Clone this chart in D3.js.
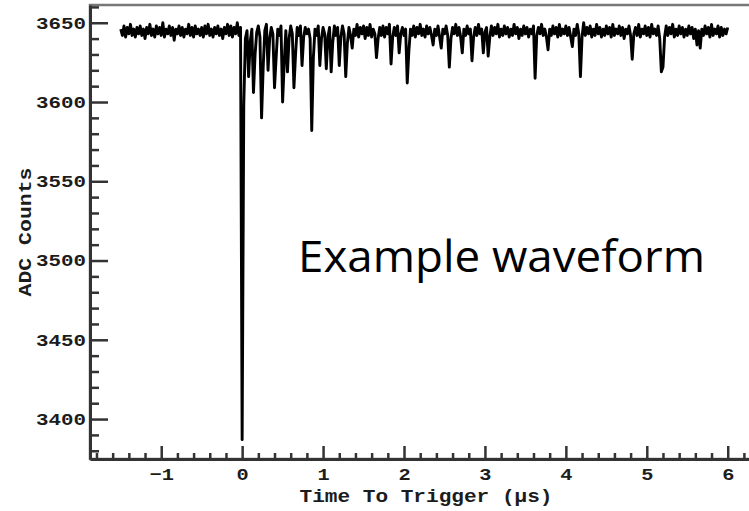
<!DOCTYPE html>
<html>
<head>
<meta charset="utf-8">
<script src="https://cdn.jsdelivr.net/npm/d3@7"></script>
<style>
  body { margin: 0; background: #fff; }
  svg { display: block; }
  .mono { font-family: "Liberation Mono", "DejaVu Sans Mono", monospace; font-weight: bold; fill: #1c1c1c; }
</style>
</head>
<body>
<svg></svg>
<script>
var width = 749;
var height = 511;

// ADC samples, one every 20 ns starting 1.5 us before the trigger
var sampleStart = -1.5;
var sampleStep = 0.02;
var adcCounts = [
  3646,3642,3648,3641,3647,3643,3649,3642,3646,3641,
  3647,3643,3648,3642,3646,3640,3647,3643,3649,3642,
  3646,3641,3648,3643,3647,3642,3650,3641,3646,3643,
  3648,3642,3647,3639,3646,3643,3648,3642,3647,3641,
  3646,3643,3649,3642,3647,3641,3648,3643,3646,3642,
  3647,3641,3648,3643,3649,3642,3646,3641,3647,3643,
  3648,3642,3646,3640,3647,3643,3649,3642,3648,3641,
  3647,3643,3650,3642,3647,3387,3598,3640,3645,3616,
  3638,3646,3606,3630,3644,3648,3641,3590,3622,3645,
  3649,3620,3640,3647,3643,3609,3628,3646,3642,3648,
  3600,3625,3645,3619,3640,3648,3643,3609,3630,3647,
  3642,3648,3623,3641,3647,3643,3646,3640,3582,3628,
  3646,3642,3648,3623,3640,3647,3643,3621,3641,3647,
  3619,3638,3648,3642,3647,3623,3641,3648,3643,3616,
  3637,3647,3642,3634,3646,3642,3649,3641,3647,3643,
  3648,3640,3647,3642,3649,3641,3646,3643,3628,3640,
  3647,3642,3648,3641,3647,3643,3649,3624,3641,3647,
  3642,3648,3631,3643,3647,3642,3646,3612,3632,3646,
  3642,3648,3641,3647,3643,3649,3642,3646,3641,3648,
  3643,3647,3642,3636,3646,3642,3648,3641,3634,3646,
  3643,3648,3642,3622,3640,3647,3643,3649,3642,3647,
  3641,3631,3646,3642,3648,3643,3646,3626,3641,3647,
  3642,3649,3643,3646,3631,3644,3647,3629,3641,3648,
  3642,3647,3643,3649,3641,3646,3642,3648,3643,3647,
  3641,3646,3642,3649,3643,3647,3640,3646,3642,3648,
  3643,3647,3641,3646,3643,3648,3615,3642,3647,3643,
  3649,3642,3646,3641,3633,3646,3642,3648,3643,3647,
  3641,3649,3642,3646,3643,3648,3642,3647,3641,3635,
  3646,3642,3649,3643,3616,3641,3650,3642,3647,3643,
  3648,3641,3646,3642,3649,3643,3647,3641,3646,3642,
  3648,3643,3647,3641,3649,3642,3646,3643,3648,3642,
  3647,3640,3646,3643,3648,3642,3627,3643,3647,3642,
  3649,3641,3646,3643,3648,3642,3647,3641,3649,3643,
  3646,3642,3648,3640,3619,3622,3641,3648,3642,3647,
  3643,3649,3641,3646,3642,3648,3643,3647,3641,3646,
  3642,3648,3643,3647,3640,3646,3636,3645,3634,3646,
  3642,3648,3643,3647,3641,3649,3642,3646,3643,3648,
  3641,3647,3642,3646,3643,3647
];

var xMajor = [-1, 0, 1, 2, 3, 4, 5, 6];
var yMajor = [3400, 3450, 3500, 3550, 3600, 3650];
var xTitle = "Time To Trigger (\u00b5s)";
var yTitle = "ADC Counts";
var note = "Example waveform";

var svg = d3.select("svg")
  .attr("width", width)
  .attr("height", height);

var x = d3.scaleLinear().domain([-1.88, 6.3]).range([90, 752]);
var y = d3.scaleLinear().domain([3374.8, 3661.2]).range([459, 5]);

// minor ticks every 0.2 us and every 10 counts
var xMinor = d3.range(-9, 32).map(d => d / 5).filter(d => !xMajor.includes(d));
var yMinor = d3.range(338, 367).map(d => d * 10).filter(d => !yMajor.includes(d));

// frame
svg.append("rect")
  .attr("x", x.range()[0])
  .attr("y", y.range()[1])
  .attr("width", x.range()[1] - x.range()[0])
  .attr("height", y.range()[0] - y.range()[1])
  .attr("fill", "none")
  .attr("stroke", "#777")
  .attr("stroke-width", 2.5);

// waveform
var line = d3.line()
  .x((d, i) => x(sampleStart + i * sampleStep))
  .y(d => y(d));

svg.append("path")
  .datum(adcCounts)
  .attr("d", line)
  .attr("fill", "none")
  .attr("stroke", "#000")
  .attr("stroke-width", 2.9)
  .attr("stroke-linejoin", "round");

function styleAxis(g) {
  g.select(".domain").attr("stroke", "#333").attr("stroke-width", 3);
  g.selectAll(".tick line").attr("stroke", "#333").attr("stroke-width", 2.5);
}

function stretch(sel, perChar) {
  sel.attr("textLength", function() { return this.textContent.length * perChar; })
     .attr("lengthAdjust", "spacingAndGlyphs");
}

// x axis
svg.append("g")
  .attr("transform", "translate(0," + y.range()[0] + ")")
  .call(d3.axisBottom(x).tickValues(xMinor).tickSize(-6).tickFormat(""))
  .call(g => g.select(".domain").remove())
  .call(styleAxis);

var xAxis = svg.append("g")
  .attr("transform", "translate(0," + y.range()[0] + ")")
  .call(d3.axisBottom(x).tickValues(xMajor).tickSize(-13).tickSizeOuter(0))
  .call(styleAxis);

xAxis.selectAll(".tick text")
  .attr("class", "mono")
  .attr("font-size", 17)
  .attr("y", 21)
  .attr("dy", 0)
  .call(stretch, 12.2);

// y axis
svg.append("g")
  .attr("transform", "translate(" + x.range()[0] + ",0)")
  .call(d3.axisLeft(y).tickValues(yMinor).tickSize(-9).tickFormat(""))
  .call(g => g.select(".domain").remove())
  .call(styleAxis);

var yAxis = svg.append("g")
  .attr("transform", "translate(" + x.range()[0] + ",0)")
  .call(d3.axisLeft(y).tickValues(yMajor).tickFormat(d3.format("d"))
    .tickSize(-18).tickSizeOuter(0).tickPadding(4))
  .call(styleAxis);

yAxis.selectAll(".tick text")
  .attr("class", "mono")
  .attr("font-size", 17)
  .attr("dy", "0.32em")
  .call(stretch, 12.5);

// axis titles
svg.append("text")
  .attr("class", "mono")
  .attr("x", 426)
  .attr("y", 502)
  .attr("text-anchor", "middle")
  .attr("font-size", 18)
  .text(xTitle)
  .call(stretch, 12.65);

svg.append("text")
  .attr("class", "mono")
  .attr("transform", "translate(31,232) rotate(-90)")
  .attr("text-anchor", "middle")
  .attr("font-size", 18)
  .text(yTitle)
  .call(stretch, 12.9);

// annotation
svg.append("text")
  .attr("x", 298)
  .attr("y", 272)
  .attr("font-family", "'Open Sans', 'Noto Sans', sans-serif")
  .attr("font-size", 44)
  .attr("fill", "#000")
  .attr("textLength", 407)
  .attr("lengthAdjust", "spacingAndGlyphs")
  .text(note);
</script>
</body>
</html>
